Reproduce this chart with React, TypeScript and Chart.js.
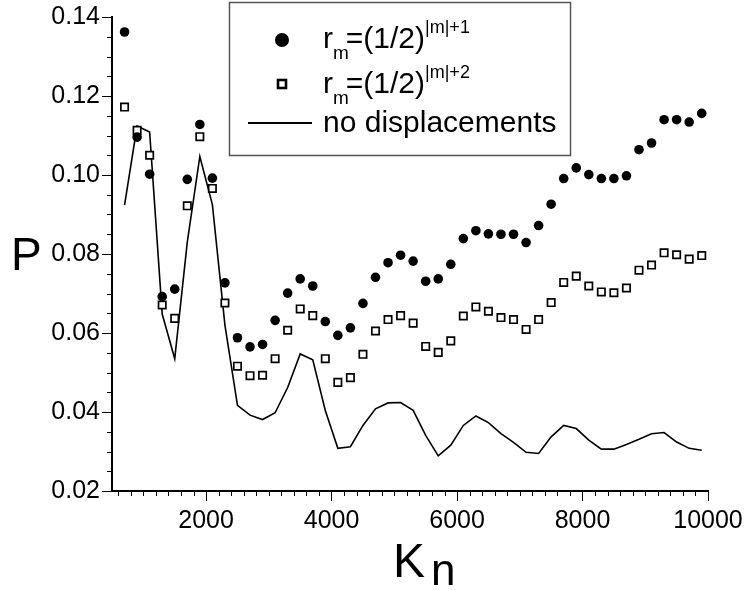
import React, { useEffect, useRef } from "react";
import { Chart, registerables } from "chart.js";

Chart.register(...registerables);

const FONT = '"Liberation Sans", Arial, Helvetica, sans-serif';

// x values (K_n)
const K_N = [
  700, 900, 1100, 1300, 1500, 1700, 1900, 2100, 2300, 2500, 2700, 2900, 3100, 3300, 3500, 3700,
  3900, 4100, 4300, 4500, 4700, 4900, 5100, 5300, 5500, 5700, 5900, 6100, 6300, 6500, 6700, 6900,
  7100, 7300, 7500, 7700, 7900, 8100, 8300, 8500, 8700, 8900, 9100, 9300, 9500, 9700, 9900,
];

// r_m = (1/2)^{|m|+1}
const P_RM1 = [
  0.1362, 0.1096, 0.1002, 0.0692, 0.0711, 0.0989, 0.1128, 0.0992, 0.0727, 0.0588, 0.0565, 0.0571,
  0.0632, 0.0701, 0.0737, 0.0719, 0.0629, 0.0594, 0.0613, 0.0675, 0.0741, 0.0778, 0.0797, 0.0782,
  0.0731, 0.0737, 0.0774, 0.0839, 0.0859, 0.0851, 0.085, 0.085, 0.0829, 0.0872, 0.0926, 0.0991,
  0.1018, 0.1001, 0.0991, 0.0991, 0.0998, 0.1064, 0.1081, 0.114, 0.114, 0.1134, 0.1156,
];

// r_m = (1/2)^{|m|+2}
const P_RM2 = [
  0.1172, 0.1113, 0.105, 0.0671, 0.0637, 0.0922, 0.1097, 0.0966, 0.0676, 0.0516, 0.0492, 0.0493,
  0.0535, 0.0607, 0.0661, 0.0644, 0.0535, 0.0475, 0.0487, 0.0546, 0.0605, 0.0634, 0.0644, 0.0625,
  0.0566, 0.0551, 0.058, 0.0643, 0.0666, 0.0655, 0.0639, 0.0634, 0.0609, 0.0634, 0.0677, 0.0728,
  0.0744, 0.0719, 0.0704, 0.0702, 0.0714, 0.0759, 0.0772, 0.0803, 0.0798, 0.0787, 0.0796,
];

// no displacements
const P_NODISP = [
  0.0924, 0.1124, 0.1109, 0.0648, 0.0535, 0.083, 0.1047, 0.0925, 0.062, 0.0417, 0.0392, 0.0381,
  0.0398, 0.0462, 0.0547, 0.0532, 0.0404, 0.0308, 0.0312, 0.0366, 0.0408, 0.0423, 0.0424, 0.0404,
  0.0341, 0.0289, 0.0316, 0.0366, 0.039, 0.0373, 0.0345, 0.0323, 0.0298, 0.0295, 0.0337, 0.0366,
  0.0358, 0.0329, 0.0306, 0.0306, 0.0318, 0.0331, 0.0345, 0.0348, 0.0324, 0.0308, 0.0303,
];

const X_TICKS = [2000, 4000, 6000, 8000, 10000];
const Y_TICKS = [0.02, 0.04, 0.06, 0.08, 0.1, 0.12, 0.14];
const X_MIN = 500;
const X_MAX = 10000;
const Y_MIN = 0.02;
const Y_MAX = 0.14;
const X_MINOR_STEP = 200;
const Y_MINOR_STEP = 0.005;

const X_TITLE = "K";
const X_TITLE_SUB = "n";
const Y_TITLE = "P";

const LEGEND_ROWS = [
  { base: "r", sub: "m", rest: "=(1/2)", sup: "|m|+1" },
  { base: "r", sub: "m", rest: "=(1/2)", sup: "|m|+2" },
  { base: "no displacements", sub: "", rest: "", sup: "" },
];
const SERIES_LABELS = ["r_m=(1/2)^{|m|+1}", "r_m=(1/2)^{|m|+2}", "no displacements"];

const decorPlugin = {
  id: "decor",
  afterDraw(chart: any) {
    const ctx = chart.ctx as CanvasRenderingContext2D;
    const xs = chart.scales.x;
    const ys = chart.scales.y;
    const area = chart.chartArea;
    ctx.save();
    // minor ticks
    ctx.strokeStyle = "#000";
    ctx.lineWidth = 1;
    ctx.beginPath();
    for (let v = 600; v < X_MAX; v += X_MINOR_STEP) {
      if (v % 2000 === 0) continue;
      const px = Math.round(xs.getPixelForValue(v)) + 0.5;
      ctx.moveTo(px, area.bottom);
      ctx.lineTo(px, area.bottom + 5);
    }
    for (let k = 1; k < Math.round((Y_MAX - Y_MIN) / Y_MINOR_STEP); k++) {
      if (k % 4 === 0) continue;
      const v = Y_MIN + k * Y_MINOR_STEP;
      const py = Math.round(ys.getPixelForValue(v)) + 0.5;
      ctx.moveTo(area.left - 5, py);
      ctx.lineTo(area.left, py);
    }
    ctx.stroke();

    // axis titles
    ctx.fillStyle = "#000";
    ctx.textBaseline = "alphabetic";
    ctx.textAlign = "left";
    ctx.font = `46px ${FONT}`;
    ctx.fillText(Y_TITLE, 11, 270);
    ctx.font = `48px ${FONT}`;
    ctx.fillText(X_TITLE, 393, 577);
    const kw = ctx.measureText(X_TITLE).width;
    ctx.font = `44px ${FONT}`;
    ctx.fillText(X_TITLE_SUB, 393 + kw + 6, 585);

    // legend box
    ctx.fillStyle = "#fff";
    ctx.fillRect(229.5, 2.5, 341, 153);
    ctx.strokeStyle = "#555";
    ctx.lineWidth = 1.5;
    ctx.strokeRect(229.5, 2.5, 341, 153);

    // markers
    ctx.fillStyle = "#000";
    ctx.beginPath();
    ctx.arc(282, 40, 7, 0, Math.PI * 2);
    ctx.fill();
    ctx.strokeStyle = "#000";
    ctx.lineWidth = 2.6;
    ctx.strokeRect(278, 80, 8, 8);
    ctx.lineWidth = 1.8;
    ctx.beginPath();
    ctx.moveTo(248, 123);
    ctx.lineTo(312, 123);
    ctx.stroke();

    // legend texts
    const baselines = [48, 93, 132];
    LEGEND_ROWS.forEach((row, i) => {
      const b = baselines[i];
      let x = 323;
      ctx.font = `30px ${FONT}`;
      ctx.fillText(row.base, x, b);
      x += ctx.measureText(row.base).width;
      if (row.sub) {
        ctx.font = `19px ${FONT}`;
        ctx.fillText(row.sub, x, b + 11);
        x += ctx.measureText(row.sub).width - 3;
      }
      if (row.rest) {
        ctx.font = `30px ${FONT}`;
        ctx.fillText(row.rest, x, b);
        x += ctx.measureText(row.rest).width;
      }
      if (row.sup) {
        ctx.font = `18px ${FONT}`;
        ctx.fillText(row.sup, x, b - 15);
      }
    });
    ctx.restore();
  },
};

export default function App() {
  const ref = useRef<HTMLCanvasElement | null>(null);
  useEffect(() => {
    if (!ref.current) return;
    Chart.defaults.font.family = FONT;
    const chart = new Chart(ref.current, {
      type: "scatter",
      data: {
        datasets: [
          {
            label: SERIES_LABELS[0],
            data: K_N.map((x, i) => ({ x, y: P_RM1[i] })),
            pointStyle: "circle",
            pointRadius: 4.8,
            backgroundColor: "#000",
            borderColor: "#000",
            borderWidth: 0,
            showLine: false,
          },
          {
            label: SERIES_LABELS[1],
            data: K_N.map((x, i) => ({ x, y: P_RM2[i] })),
            pointStyle: "rect",
            pointRadius: 5.2,
            backgroundColor: "#fff",
            borderColor: "#000",
            borderWidth: 1.7,
            showLine: false,
          },
          {
            label: SERIES_LABELS[2],
            data: K_N.map((x, i) => ({ x, y: P_NODISP[i] })),
            showLine: true,
            pointRadius: 0,
            borderColor: "#000",
            borderWidth: 1.6,
            backgroundColor: "#000",
            fill: false,
            tension: 0,
          },
        ],
      },
      options: {
        animation: false,
        responsive: false,
        devicePixelRatio: 1,
        layout: { padding: { top: 15, right: 43, left: 0, bottom: 0 } },
        plugins: { legend: { display: false }, tooltip: { enabled: false } },
        scales: {
          x: {
            type: "linear",
            min: X_MIN,
            max: X_MAX,
            afterBuildTicks: (s: any) => {
              s.ticks = X_TICKS.map((v) => ({ value: v }));
            },
            afterFit: (s: any) => {
              s.height = 99;
            },
            ticks: {
              font: { family: FONT, size: 25 },
              color: "#000",
              padding: 5,
              maxRotation: 0,
              autoSkip: false,
              callback: (v: any) => String(v),
            },
            grid: {
              display: true,
              drawOnChartArea: false,
              drawTicks: true,
              tickLength: 10,
              color: "#000",
              lineWidth: 1,
            },
            border: { display: true, color: "#000", width: 2 },
          },
          y: {
            type: "linear",
            min: Y_MIN,
            max: Y_MAX,
            afterBuildTicks: (s: any) => {
              s.ticks = Y_TICKS.map((v) => ({ value: v }));
            },
            afterFit: (s: any) => {
              s.width = 112;
            },
            ticks: {
              font: { family: FONT, size: 25 },
              color: "#000",
              padding: 2,
              autoSkip: false,
              callback: (v: any) => Number(v).toFixed(2),
            },
            grid: {
              display: true,
              drawOnChartArea: false,
              drawTicks: true,
              tickLength: 10,
              color: "#000",
              lineWidth: 1,
            },
            border: { display: true, color: "#000", width: 2 },
          },
        },
      },
      plugins: [decorPlugin],
    } as any);
    return () => chart.destroy();
  }, []);
  return (
    <div style={{ position: "absolute", left: 0, top: 0, width: 751, height: 590, background: "#fff" }}>
      <canvas ref={ref} width={751} height={590} style={{ width: 751, height: 590, display: "block" }} />
    </div>
  );
}
